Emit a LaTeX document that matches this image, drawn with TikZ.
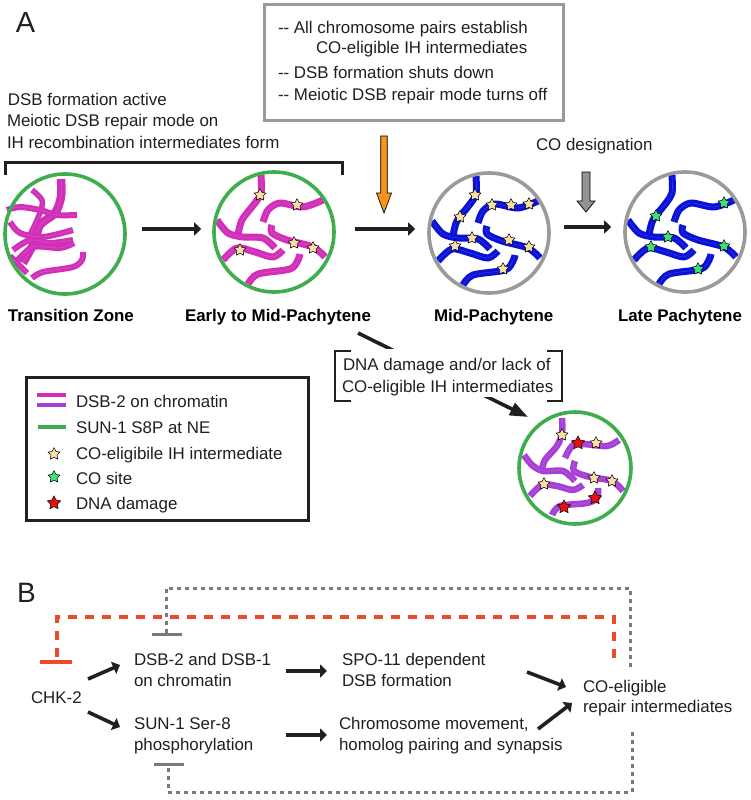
\documentclass[tikz,border=0pt]{standalone}
\usepackage{fontspec}
\setmainfont{Liberation Sans}
\usetikzlibrary{shapes.geometric,arrows.meta}
\definecolor{ringgreen}{HTML}{3DAE4B}
\definecolor{ringgray}{HTML}{9A9A9A}
\definecolor{chrmag}{HTML}{D22FB8}
\definecolor{chrblue}{HTML}{0A12D8}
\definecolor{chrpur}{HTML}{A63FD6}
\definecolor{stary}{HTML}{F8E0A4}
\definecolor{starg}{HTML}{3FE078}
\definecolor{starr}{HTML}{E21212}
\definecolor{inhib}{HTML}{E84A2A}
\definecolor{dk}{HTML}{231F20}
\definecolor{dashgray}{HTML}{7A7A7A}
\definecolor{orangearrow}{HTML}{F7941D}
\newcommand{\twolines}[3]{\vtop{\baselineskip=#1pt \hbox{#2}\hbox{#3}}}
\tikzset{
  txt/.style={anchor=base west,inner sep=0pt,outer sep=0pt,text=dk,font=\fontsize{16.9}{20}\selectfont},
  boldtxt/.style={txt,font=\fontsize{16.9}{20}\selectfont\bfseries,text=black},
  ring/.style={circle,draw=#1,line width=3.6pt,inner sep=0pt,minimum size=120pt},
  stb/.style={star,star points=5,star point ratio=1.9,inner sep=0pt,minimum size=#1,draw=black,line width=.5pt},
  st/.style={stb=12.5pt,fill=stary},
  gst/.style={stb=12.5pt,fill=starg},
  rst/.style={stb=14pt,fill=starr},
  flow/.style={draw=dk,line width=3.6pt,-{Triangle[length=7pt,width=13pt]}},
  bigarrow/.style={draw=black,line width=.7pt,fill=#1},
  frame/.style={draw=dk,line width=3pt},
  inh/.style={draw=inhib,line width=4.6pt},
  inhd/.style={inh,dash pattern=on 9pt off 8pt},
  fb/.style={draw=dashgray,line width=3pt},
  fbd/.style={fb,dash pattern=on 4pt off 4pt},
}
% a chromosome pair: thick band with a faint central line
\newcommand{\pairline}[3]{%
  \draw[#1,line width=#2pt,line join=round] plot[smooth,tension=.5] coordinates {#3};
  \draw[#1!78!white,line width=.35pt,line join=round] plot[smooth,tension=.5] coordinates {#3};}
\newcommand{\pachychr}[1]{%
  \pairline{#1}{7}{(-13,-57)(-13,-39)(-19,-29)(-32,-12)(-36,3)}
  \pairline{#1}{7}{(-11,-10)(-6,-22)(6,-29)(29,-25)(49,-32)}
  \pairline{#1}{7}{(-57,-12)(-46,1)(-31,5)(-11,6)(1,16)}
  \pairline{#1}{7}{(-51,28)(-37,16)(-19,20)(-1,25)(9,18)}
  \pairline{#1}{7}{(-2,-7)(-2,1)(13,8)(39,15)(51,25)}
  \pairline{#1}{7}{(-26,52)(-16,42)(16,37)(24,28)(26,22)}
}
\begin{document}
\begin{tikzpicture}[x=1pt,y=-1pt]
\useasboundingbox (0,0) rectangle (751,800);
\fill[white] (0,0) rectangle (751,800);

% ---------- panel A texts
\node[txt,font=\fontsize{29}{32}\selectfont] (lblA) at (16,33) {A};
\node[txt] (active) at (8,105) {\vtop{\baselineskip=21.5pt \hbox{DSB formation active}\hbox{\hskip-1pt Meiotic DSB repair mode on}\hbox{\hskip-1pt IH recombination intermediates form}}};
\draw[frame] (5,175) -- (5,162) -- (342,162) -- (342,175);

\draw[draw=ringgray,line width=3pt] (264,5) rectangle (563,120);
\node[txt] (shut) at (278,34) {\vtop{\baselineskip=20pt \hbox{-{}- All chromosome pairs establish}\hbox{\hskip38pt CO-eligible IH intermediates}\vskip5pt\hbox{-{}- DSB formation shuts down}\vskip2pt\hbox{-{}- Meiotic DSB repair mode turns off}}};
\node[txt] (codes) at (536,150) {CO designation};

% big arrows
\draw[bigarrow=orangearrow] (380.7,136) -- (387.3,136) -- (387.3,193) -- (391.5,193) -- (384,213) -- (376.5,193) -- (380.7,193) -- cycle;
\draw[bigarrow=gray!85!white] (582,172) -- (590,172) -- (590,201) -- (595,201) -- (586,212) -- (577,201) -- (582,201) -- cycle;

% ---------- transition zone
\begin{scope}[shift={(65,234)}]
  \pairline{chrmag}{8.5}{(-4,-55)(-4,-37)(-10,-21)(-25,-9)(-30,7)(-42,29)}
  \pairline{chrmag}{5.5}{(-33,-44)(-23,-34)(-25,-21)(-36,3)}
  \pairline{chrmag}{6}{(-58,-24)(-45,-27)(-25,-24)(-8,-19)(12,-19)}
  \pairline{chrmag}{6}{(-55,-12)(-45,-1)(-22,3)(8,-4)}
  \pairline{chrmag}{6}{(-52,16)(-35,6)(-15,9)(8,6)}
  \pairline{chrmag}{6}{(-48,27)(-32,13)(-5,14)(9,9)}
  \pairline{chrmag}{6}{(-55,22)(-38,39)}
  \pairline{chrmag}{6}{(-33,44)(-22,38)(8,33)(17,26)(18,18)}
\end{scope}
\node[ring=ringgreen] (tz) at (65,234) {};

% ---------- early to mid-pachytene
\begin{scope}[shift={(274,232)}]
  \pachychr{chrmag}
\end{scope}
\node[ring=ringgreen] (emp) at (274,232) {};
\foreach \p [count=\n] in {(-14,-37),(23,-27),(-34,18),(20,11),(39,16)}
  \node[st,name=emp-star-\n] at ([shift={\p}]emp.center) {};

% ---------- mid-pachytene
\begin{scope}[shift={(489,233)}]
  \pachychr{chrblue}
\end{scope}
\node[ring=ringgray] (mp) at (489,233) {};
\foreach \p [count=\n] in {(-14,-38),(-29,-16),(3,-28),(22,-28),(40,-29),(-17,5),(-34,13),(20,7),(40,14),(14,36)}
  \node[st,name=mp-star-\n] at ([shift={\p}]mp.center) {};

% ---------- late pachytene
\begin{scope}[shift={(685,232)}]
  \pachychr{chrblue}
\end{scope}
\node[ring=ringgray] (lp) at (685,232) {};
\foreach \p [count=\n] in {(-29,-16),(39,-29),(-17,5),(-34,15),(39,14),(13,37)}
  \node[gst,name=lp-star-\n] at ([shift={\p}]lp.center) {};

% ---------- stage labels
\node[boldtxt] (ltz) at (8,321) {Transition Zone};
\node[boldtxt] (lemp) at (185,321) {Early to Mid-Pachytene};
\node[boldtxt] (lmp) at (434,321) {Mid-Pachytene};
\node[boldtxt] (llp) at (618,321) {Late Pachytene};

% ---------- flow arrows panel A
\draw[flow] ([shift={(15,-5)}]tz.east) -- ([shift={(-11,-3)}]emp.west);
\draw[flow] ([shift={(19,-3)}]emp.east) -- ([shift={(-12,-4)}]mp.west);
\draw[flow] ([shift={(13,-6)}]mp.east) -- ([shift={(-12,-5)}]lp.west);

% ---------- damage circle
\begin{scope}[shift={(575,468)}]
  \pairline{chrpur}{6.5}{(-13,-50)(-13,-35)(-18,-22)(-30,-8)(-33,2)}
  \pairline{chrpur}{6.5}{(-10,-10)(-3,-22)(8,-24)(32,-22)(44,-28)}
  \pairline{chrpur}{6.5}{(-51,-13)(-43,-3)(-32,3)(-12,3)(0,13)}
  \pairline{chrpur}{6.5}{(-45,28)(-33,17)(-18,18)(-2,22)(8,17)}
  \pairline{chrpur}{6.5}{(0,-7)(-1,3)(15,9)(37,13)(48,23)}
  \pairline{chrpur}{6.5}{(-23,47)(-15,38)(12,35)(22,30)(23,20)}
\end{scope}
\node[ring=ringgreen,minimum size=112pt] (dmg) at (575,468) {};
\foreach \p [count=\n] in {(-13,-33),(21,-25),(-31,16),(19,10),(37,13)}
  \node[st,name=dmg-star-\n] at ([shift={\p}]dmg.center) {};
\foreach \p [count=\n] in {(3,-25),(20,30),(-11,39)}
  \node[rst,name=dmg-red-\n] at ([shift={\p}]dmg.center) {};

% ---------- damage connector with label over it
\draw[flow,-{Triangle[length=18pt,width=13pt]}] ([shift={(84,101)}]emp.center) -- ([shift={(-47,-51)}]dmg.center);
\fill[white] (337,349) rectangle (560,397);
\node[txt] (dlabel) at (343,370) {\twolines{22}{DNA damage and/or lack of}{\hskip-1pt CO-eligible IH intermediates}};
\draw[draw=dk,line width=2.6pt] (351,351) -- (335,351) -- (335,401) -- (351,401);
\draw[draw=dk,line width=2.6pt] (547,351) -- (562,351) -- (562,401) -- (547,401);

% ---------- legend
\draw[frame] (26,377) rectangle (308,520);
\draw[draw=chrmag,line width=4pt] (37,395) -- (66,395);
\draw[draw=chrpur,line width=4pt] (37,405) -- (66,405);
\draw[draw=ringgreen,line width=4pt] (38,427) -- (66,427);
\node[st] (lgy) at (54,454) {};
\node[gst] (lgg) at (54,477) {};
\node[rst] (lgr) at (54,503) {};
\node[txt] (lg1) at (76,407) {DSB-2 on chromatin};
\node[txt] (lg2) at (76,433) {SUN-1 S8P at NE};
\node[txt] (lg3) at (76,459) {CO-eligibile IH intermediate};
\node[txt] (lg4) at (76,484) {CO site};
\node[txt] (lg5) at (76,509) {DNA damage};

% ---------- panel B
\node[txt,font=\fontsize{28}{32}\selectfont] (lblB) at (17,602) {B};
\node[txt] (chk) at (31,703) {CHK-2};
\node[txt] (dsb) at (134,665) {\twolines{21}{DSB-2 and DSB-1}{on chromatin}};
\node[txt] (sun) at (134,729) {\twolines{21}{SUN-1 Ser-8}{phosphorylation}};
\node[txt] (spo) at (342,665) {\twolines{21}{SPO-11 dependent}{DSB formation}};
\node[txt] (chrom) at (339,729) {\twolines{21}{Chromosome movement,}{homolog pairing and synapsis}};
\node[txt] (coi) at (583,692) {\twolines{20.5}{CO-eligible}{repair intermediates}};

\draw[flow] ([shift={(57,-24)}]chk.base west) -- ([shift={(-14,0)}]dsb.base west);
\draw[flow] ([shift={(57,9)}]chk.base west) -- ([shift={(-14,-2)}]sun.base west);
\draw[flow] ([shift={(152,6)}]dsb.base west) -- ([shift={(-15,6)}]spo.base west);
\draw[flow] ([shift={(152,6)}]sun.base west) -- ([shift={(-12,6)}]chrom.base west);
\draw[flow] ([shift={(185,7)}]spo.base west) -- ([shift={(-17,-5)}]coi.base west);
\draw[flow] ([shift={(199,0)}]chrom.base west) -- ([shift={(-11,11)}]coi.base west);

% inhibition lines
\coordinate (ob) at ([shift={(26,-41)}]chk.base west);
\coordinate (oe) at ([shift={(31,-34)}]coi.base west);
\draw[inhd] (oe) -- (oe |- 0,617) -- (ob |- 0,617) -- (ob);
\draw[inh] ([xshift=-17pt]ob) -- ([xshift=15pt]ob);
\coordinate (gt) at ([shift={(32,-31)}]dsb.base west);
\coordinate (gte) at ([shift={(47,-25)}]coi.base west);
\draw[fbd] (gte) -- (gte |- 0,588) -- (gt |- 0,588) -- (gt);
\draw[fb] ([xshift=-14pt]gt) -- ([xshift=16pt]gt);
\coordinate (gb) at ([shift={(34,35)}]sun.base west);
\coordinate (gbe) at ([shift={(49,40)}]coi.base west);
\draw[fbd] (gbe) -- (gbe |- 0,792) -- (gb |- 0,792) -- (gb);
\draw[fb] ([xshift=-14pt]gb) -- ([xshift=16pt]gb);
\end{tikzpicture}
\end{document}
